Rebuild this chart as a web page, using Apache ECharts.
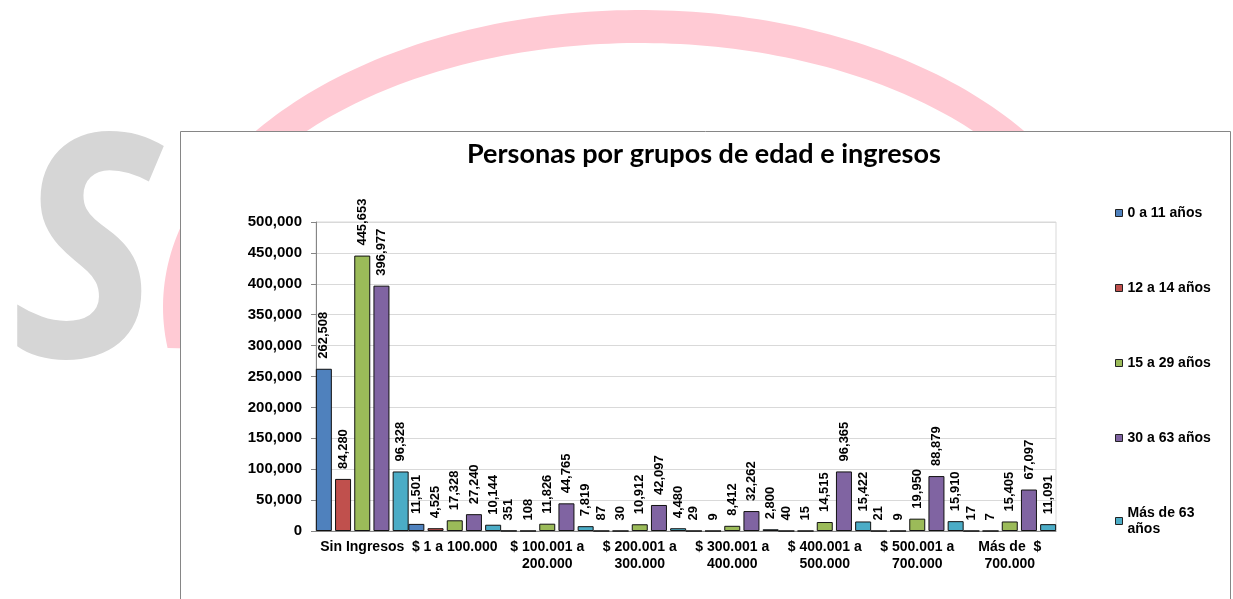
<!DOCTYPE html>
<html>
<head>
<meta charset="utf-8">
<script src="https://cdn.jsdelivr.net/npm/echarts@6/dist/echarts.min.js"></script>
<style>
  html, body { margin: 0; padding: 0; background: #fff; }
  #chart { width: 1233px; height: 599px; }
</style>
</head>
<body>
<div id="chart"></div>
<script>
// datos
const categorias = [
  'Sin Ingresos', '$ 1 a 100.000', '$ 100.001 a\n200.000', '$ 200.001 a\n300.000',
  '$ 300.001 a\n400.000', '$ 400.001 a\n500.000', '$ 500.001 a\n700.000', 'Más de  $\n700.000'
]
const grupos = ['0 a 11 años', '12 a 14 años', '15 a 29 años', '30 a 63 años', 'Más de 63 años']
const colores = ['#4F81BD', '#C0504D', '#9BBB59', '#8064A2', '#4BACC6']
const edad0a11 = [262508, 11501, 351, 87, 29, 40, 21, 17]
const edad12a14 = [84280, 4525, 108, 30, 9, 15, 9, 7]
const edad15a29 = [445653, 17328, 11826, 10912, 8412, 14515, 19950, 15405]
const edad30a63 = [396977, 27240, 44765, 42097, 32262, 96365, 88879, 67097]
const edadMas63 = [96328, 10144, 7819, 4480, 2800, 15422, 15910, 11091]
const valores = [edad0a11, edad12a14, edad15a29, edad30a63, edadMas63]
const ticksY = { min: 0, max: 500000, interval: 50000 }

const fmt = v => Number(v).toLocaleString('en-US')

// marca de agua de fondo (arco rosado)
function arco() {
  let pts = [],
    cx = 640,
    cy = 307
  for (let t = -0.3; t <= 3.287; t += 0.02) {
    pts.push([cx + 477 * Math.cos(t), cy - 297 * Math.sin(t)])
  }
  for (let t = 3.30; t >= -0.3; t -= 0.02) {
    pts.push([cx + 447 * Math.cos(t), cy - 264 * Math.sin(t)])
  }
  return pts
}

let chart = echarts.init(document.getElementById('chart'))
let option = {
  animation: false,
  title: {
    text: 'Personas por grupos de edad e ingresos',
    left: 462,
    top: 136,
    textStyle: {
      fontFamily: 'Lato',
      fontWeight: 'bold',
      fontSize: 27,
      color: '#000'
    }
  },
  legend: {
    orient: 'vertical',
    left: 1110,
    top: 200,
    itemWidth: 7,
    itemHeight: 7,
    itemGap: 59,
    icon: 'rect',
    itemStyle: { borderColor: '#222', borderWidth: 1 },
    formatter: n => (n === 'Más de 63 años' ? 'Más de 63\naños' : n),
    textStyle: {
      fontFamily: 'Liberation Sans',
      fontWeight: 'bold',
      fontSize: 14,
      lineHeight: 16,
      color: '#000'
    },
    data: grupos
  },
  grid: {
    left: 316,
    right: 177,
    top: 222,
    bottom: 68,
    show: true,
    borderColor: '#D9D9D9',
    borderWidth: 1
  },
  xAxis: {
    type: 'category',
    data: categorias,
    axisLine: { lineStyle: { color: '#868686' } },
    axisTick: { length: 5, lineStyle: { color: '#868686' } },
    axisLabel: {
      interval: 0,
      margin: 8,
      color: '#000',
      fontFamily: 'Liberation Sans',
      fontWeight: 'bold',
      fontSize: 14,
      lineHeight: 17
    }
  },
  yAxis: {
    type: 'value',
    min: ticksY.min,
    max: ticksY.max,
    interval: ticksY.interval,
    axisLine: { show: true, lineStyle: { color: '#868686' } },
    axisTick: { show: true, length: 5, lineStyle: { color: '#868686' } },
    splitLine: { lineStyle: { color: '#D9D9D9' } },
    axisLabel: {
      margin: 14,
      color: '#000',
      fontFamily: 'Liberation Sans',
      fontWeight: 'bold',
      fontSize: 15,
      formatter: fmt
    }
  },
  series: grupos.map((g, i) => ({
    name: g,
    type: 'bar',
    barWidth: 16,
    barGap: '20%',
    data: valores[i],
    itemStyle: { color: colores[i], borderColor: '#111', borderWidth: 1 },
    label: {
      show: true,
      position: 'top',
      rotate: 90,
      align: 'left',
      verticalAlign: 'middle',
      distance: 10,
      color: '#000',
      fontFamily: 'Liberation Sans',
      fontWeight: 'bold',
      fontSize: 13,
      formatter: p => fmt(p.value)
    }
  })),
  graphic: [
    {
      type: 'polygon',
      z: -20,
      silent: true,
      shape: { points: arco() },
      style: { fill: '#FFCAD4' }
    },
    {
      type: 'text',
      z: -20,
      silent: true,
      x: 86,
      y: 268,
      scaleX: 0.9,
      style: {
        text: 'S',
        font: 'italic bold 312px "Open Sans"',
        fill: '#D6D6D6',
        align: 'center',
        verticalAlign: 'middle'
      }
    },
    {
      type: 'rect',
      z: -10,
      silent: true,
      shape: { x: 180.5, y: 131.5, width: 1050, height: 500 },
      style: { fill: '#fff', stroke: '#868686', lineWidth: 1 }
    }
  ]
}
chart.setOption(option)
</script>
</body>
</html>
